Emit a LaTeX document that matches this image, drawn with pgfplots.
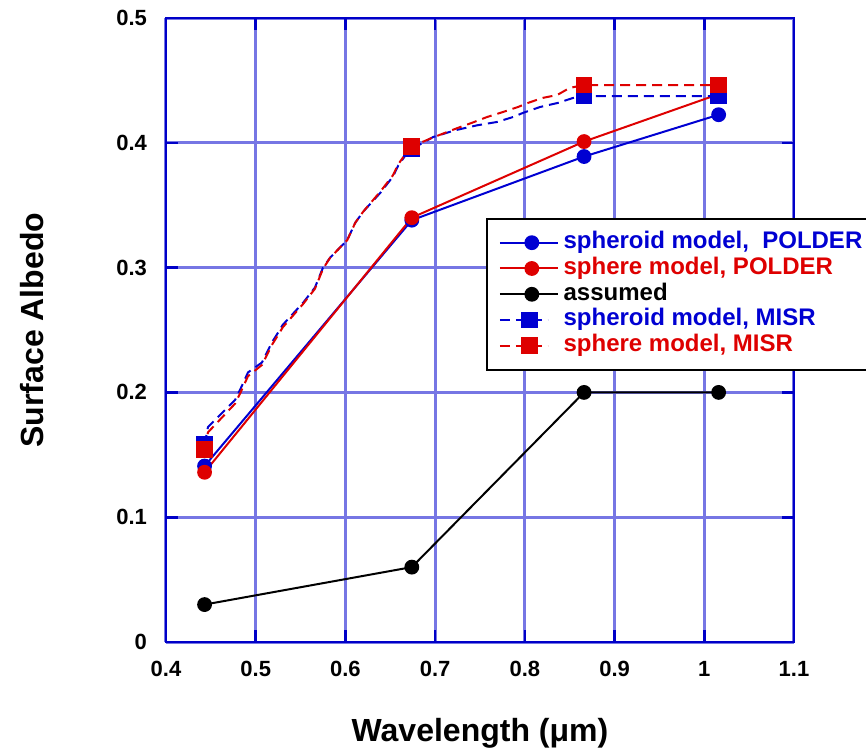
\documentclass[border=0pt]{standalone}
\usepackage{fontspec}
\setmainfont{Liberation Sans}
\usepackage{pgfplots}
\pgfplotsset{compat=1.18}

\definecolor{axisblue}{RGB}{0,0,200}
\definecolor{gridblue}{RGB}{118,118,228}
\definecolor{lineblue}{RGB}{0,0,210}
\definecolor{linered}{RGB}{222,0,0}

\pgfplotsset{
  marked legend/.style={legend image code/.code={\draw[mark repeat=2,mark phase=2,##1]
    plot coordinates {(0pt,0pt) (16pt,0pt) (29pt,0pt)};}},
  dashed legend/.style={legend image code/.code={\draw[##1, mark indices={2}]
    plot coordinates {(0pt,0pt) (15pt,0pt) (24pt,0pt)};}},
}

\begin{document}
\begin{tikzpicture}
\useasboundingbox (-83pt,-54pt) rectangle (350pt,321pt);
\begin{axis}[
  scale only axis,
  width=314pt, height=312pt,
  xmin=0.4, xmax=1.1, ymin=0, ymax=0.5,
  xtick={0.4,0.5,0.6,0.7,0.8,0.9,1,1.1},
  ytick={0,0.1,0.2,0.3,0.4,0.5},
  grid=major,
  major grid style={gridblue, line width=1.5pt},
  axis line style={axisblue, line width=1.3pt},
  tick style={axisblue, line width=1.3pt},
  major tick length=6pt,
  /pgf/number format/assume math mode=true,
  ticklabel style={font=\bfseries\fontsize{11}{11}\selectfont, text=black},
  xticklabel style={yshift=-6pt},
  yticklabel style={xshift=-6pt},
  label style={font=\bfseries\fontsize{16}{16}\selectfont},
  xlabel={Wavelength (μm)},
  ylabel={Surface Albedo},
  xlabel style={at={(axis description cs:0.5,-0.146)}, anchor=center},
  ylabel style={at={(axis description cs:-0.2134,0.5)}, anchor=center},
  legend style={at={(axis description cs:0.5096,0.6795)}, anchor=north west,
    draw=black, line width=0.8pt, fill=white,
    font=\bfseries\fontsize{12}{12}\selectfont,
    inner xsep=6pt, inner ysep=5.5pt, row sep=0pt, column sep=2pt,
    nodes={text height=9pt, text depth=3.1pt, inner sep=0.4pt},
    cells={anchor=west}},
  marked legend,
]

% POLDER retrievals
\addplot[lineblue, line width=1pt, mark=*, mark size=3.2pt] coordinates {
  (0.443,0.141) (0.674,0.338) (0.866,0.389) (1.016,0.4225)};
\addlegendentry{\textcolor{lineblue}{spheroid model,\ \ POLDER}}

\addplot[linered, line width=1pt, mark=*, mark size=3.2pt] coordinates {
  (0.443,0.136) (0.674,0.340) (0.866,0.401) (1.016,0.439)};
\addlegendentry{\textcolor{linered}{sphere model, POLDER}}

\addplot[black, line width=1pt, mark=*, mark size=3.2pt] coordinates {
  (0.443,0.03) (0.674,0.06) (0.866,0.2) (1.016,0.2)};
\addlegendentry{assumed}

% MISR retrievals: spectrally resolved curves, marked at the band centres
\addplot[lineblue, line width=1pt, dash pattern=on 5pt off 3pt,
  mark=square*, mark size=3.7pt, mark options={solid},
  mark indices={1,21,31,32}, dashed legend] coordinates {
  (0.443,0.158) (0.4468,0.1723) (0.477,0.194) (0.4825,0.202) (0.4914,0.216)
  (0.507,0.224) (0.518,0.240) (0.525,0.248) (0.530,0.254) (0.553,0.272)
  (0.566,0.284) (0.575,0.300) (0.583,0.308) (0.602,0.322) (0.611,0.336)
  (0.620,0.345) (0.639,0.360) (0.653,0.373) (0.659,0.382) (0.666,0.389)
  (0.674,0.395) (0.6977,0.4046) (0.722,0.410) (0.7467,0.414) (0.769,0.4167)
  (0.787,0.4207) (0.798,0.424) (0.817,0.4287) (0.837,0.432) (0.854,0.436)
  (0.866,0.4375) (1.016,0.4375)};
\addlegendentry{\textcolor{lineblue}{spheroid model, MISR}}

\addplot[linered, line width=1pt, dash pattern=on 5pt off 3pt,
  mark=square*, mark size=3.7pt, mark options={solid},
  mark indices={1,21,32,33}, dashed legend] coordinates {
  (0.443,0.154) (0.4468,0.168) (0.477,0.191) (0.4825,0.199) (0.4914,0.213)
  (0.507,0.222) (0.518,0.238) (0.525,0.246) (0.530,0.252) (0.553,0.271)
  (0.566,0.283) (0.575,0.299) (0.583,0.308) (0.602,0.322) (0.611,0.336)
  (0.620,0.345) (0.639,0.361) (0.653,0.374) (0.659,0.383) (0.666,0.390)
  (0.674,0.397) (0.6966,0.404) (0.7255,0.412) (0.741,0.416) (0.758,0.4207)
  (0.7757,0.4247) (0.7924,0.4287) (0.8036,0.432) (0.820,0.436) (0.836,0.4383)
  (0.850,0.444) (0.866,0.4463) (1.016,0.4463)};
\addlegendentry{\textcolor{linered}{sphere model, MISR}}

\end{axis}
\end{tikzpicture}
\end{document}
